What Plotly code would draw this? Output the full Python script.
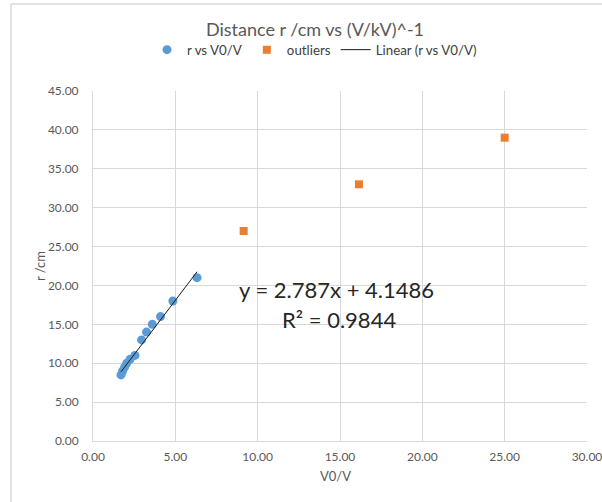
import plotly.graph_objects as go

# Main series: r against V0/V
v_ratio = [1.70, 1.80, 1.92, 2.05, 2.25, 2.55, 2.95, 3.25, 3.60, 4.10, 4.85, 6.32]
r_cm = [8.5, 9.0, 9.5, 10.0, 10.5, 11.0, 13.0, 14.0, 15.0, 16.0, 18.0, 21.0]

# Points left out of the fit
outlier_x = [9.15, 16.15, 25.0]
outlier_y = [27.0, 33.0, 39.0]

# Linear trendline coefficients and fit quality
slope = 2.787
intercept = 4.1486
r_squared = 0.9844

x_ticks = [0, 5, 10, 15, 20, 25, 30]
y_ticks = [0, 5, 10, 15, 20, 25, 30, 35, 40, 45]

FONT = "Lato, 'Open Sans', sans-serif"
GREY_TXT = "#595959"
GRID = "#d9d9d9"

trend_x = [min(v_ratio), max(v_ratio)]
trend_y = [slope * x + intercept for x in trend_x]

fig = go.Figure()
fig.add_trace(go.Scatter(
    x=v_ratio, y=r_cm, mode="markers", name="r vs V0/V",
    marker=dict(symbol="circle", size=9, color="#5b9bd5"),
))
fig.add_trace(go.Scatter(
    x=outlier_x, y=outlier_y, mode="markers", name="outliers",
    marker=dict(symbol="square", size=8, color="#ed7d31"),
))
fig.add_trace(go.Scatter(
    x=trend_x, y=trend_y, mode="lines", name="Linear (r vs V0/V)",
    line=dict(color="#1a1a1a", width=1),
))

W, H = 602, 502
L, R, T, B = 93, 15, 91, 61
pw, ph = W - L - R, H - T - B

def px_x(p):
    return (p - L) / pw

def px_y(p):
    return (H - B - p) / ph

def label(text, x, y, size, color=GREY_TXT, angle=0):
    return dict(text=text, xref="paper", yref="paper", x=px_x(x), y=px_y(y),
                xanchor="center", yanchor="middle", showarrow=False,
                textangle=angle, font=dict(size=size, color=color))

fig.update_layout(
    width=W, height=H,
    margin=dict(l=L, r=R, t=T, b=B, autoexpand=False),
    paper_bgcolor="white", plot_bgcolor="white",
    font=dict(family=FONT, color=GREY_TXT, size=12),
    title=dict(
        text="Distance r /cm vs (V/kV)^-1",
        x=315 / W, xanchor="center", y=1 - 30 / H, yanchor="middle",
        font=dict(size=18, color=GREY_TXT, family=FONT),
    ),
    showlegend=True,
    legend=dict(
        orientation="h", x=px_x(147), xanchor="left", y=px_y(50), yanchor="middle",
        font=dict(size=13.3, color="#404040"), bgcolor="rgba(0,0,0,0)",
        itemwidth=30,
    ),
    xaxis=dict(
        range=[0, 30], tickvals=x_ticks, tickformat=".2f", automargin=False,
        showgrid=True, gridcolor=GRID, gridwidth=1,
        showline=True, linecolor=GRID, linewidth=1,
        zeroline=False, ticks="", ticklabelstandoff=5,
        ticklabeloverflow="allow",
        tickfont=dict(size=12, color=GREY_TXT),
    ),
    yaxis=dict(
        range=[0, 45], tickvals=y_ticks, tickformat=".2f", automargin=False,
        showgrid=True, gridcolor=GRID, gridwidth=1,
        showline=True, linecolor=GRID, linewidth=1,
        zeroline=False, ticks="", ticklabelstandoff=11,
        ticklabeloverflow="allow",
        tickfont=dict(size=12, color=GREY_TXT),
    ),
    annotations=[
        label("V0/V", 335, 476, 13),
        label("r /cm", 40, 266, 13, angle=-90),
        label(f"y = {slope}x + {intercept}", 336, 289, 22, "#262626"),
        label(f"R² = {r_squared}", 339, 319, 22, "#262626"),
    ],
    shapes=[
        dict(type="line", xref="paper", yref="paper", x0=px_x(11), x1=px_x(620),
             y0=px_y(4), y1=px_y(4), line=dict(color=GRID, width=1.5)),
        dict(type="line", xref="paper", yref="paper", x0=px_x(11), x1=px_x(11),
             y0=px_y(4), y1=px_y(520), line=dict(color=GRID, width=1.5)),
    ],
)

fig.write_html("out.html")
